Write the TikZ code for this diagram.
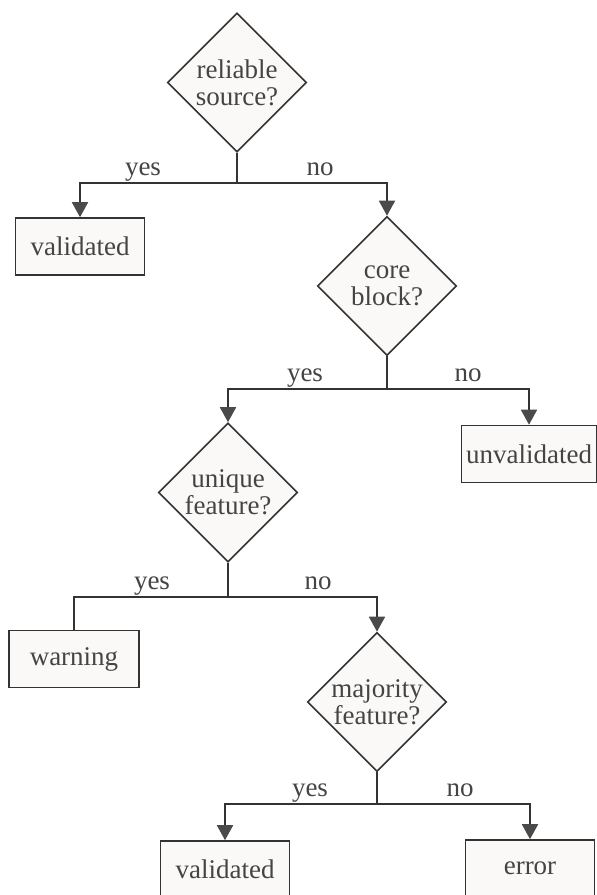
\documentclass[tikz,border=0pt]{standalone}
\usepackage{fontspec}
\setmainfont{Liberation Serif}
\usetikzlibrary{shapes.geometric,arrows.meta}
\definecolor{linec}{HTML}{333333}
\definecolor{tipc}{HTML}{4A4A4A}
\definecolor{boxfill}{HTML}{FAF9F7}
\definecolor{txtc}{HTML}{444444}
\tikzset{
  base/.style={draw=linec, line width=1.6pt, fill=boxfill, text=txtc,
    font=\fontsize{27}{27}\selectfont, align=center},
  decision/.style={base, shape=diamond, aspect=1, inner sep=-8pt,
    minimum width=139pt, minimum height=139pt},
  outcome/.style={base, rectangle, inner sep=0pt, minimum height=57pt},
  conn/.style={draw=linec, line width=1.8pt},
  arr/.style={conn, -{Triangle[width=16pt,length=15pt,fill=tipc,color=tipc]}},
  lbl/.style={text=txtc, font=\fontsize{27}{27}\selectfont, anchor=base, inner sep=0pt}
}
\begin{document}
\begin{tikzpicture}[x=1pt,y=-1pt]
\clip (0,0) rectangle (597,895);
\fill[white] (0,0) rectangle (597,895);
% decisions
\node[decision] (d1) at (237,82.5) {reliable\\source?};
\node[decision] (d2) at (387,286) {core\\block?};
\node[decision] (d3) at (228,492.5) {unique\\feature?};
\node[decision] (d4) at (377,702) {majority\\feature?};
% outcomes
\node[outcome, minimum width=129pt] (v1) at (80,246.5) {validated};
\node[outcome, minimum width=135pt] (u1) at (529,454) {unvalidated};
\node[outcome, minimum width=130pt] (w1) at (74,659) {warning};
\node[outcome, minimum width=129pt] (v2) at (225,869.5) {validated};
\node[outcome, minimum width=129pt] (e1) at (530,868.5) {error};
% junctions
\coordinate (j1) at (237,183);
\coordinate (j2) at (387,389);
\coordinate (j3) at (228,597);
\coordinate (j4) at (377,804);
% connectors
\draw[arr] (d1.south) -- (j1) -| (v1.north);
\draw[arr] (j1) -| (d2.north);
\draw[arr] (d2.south) -- (j2) -| (d3.north);
\draw[arr] (j2) -| (u1.north);
\draw[conn] (d3.south) -- (j3) -| (w1.north);
\draw[arr] (j3) -| (d4.north);
\draw[arr] (d4.south) -- (j4) -| (v2.north);
\draw[arr] (j4) -| (e1.north);
% labels
\node[lbl] (y1) at (143,175) {yes};
\node[lbl] (n1) at (320,175) {no};
\node[lbl] (y2) at (305,381) {yes};
\node[lbl] (n2) at (468,381) {no};
\node[lbl] (y3) at (152,589) {yes};
\node[lbl] (n3) at (318,589) {no};
\node[lbl] (y4) at (310,796) {yes};
\node[lbl] (n4) at (460,796) {no};
\end{tikzpicture}
\end{document}
